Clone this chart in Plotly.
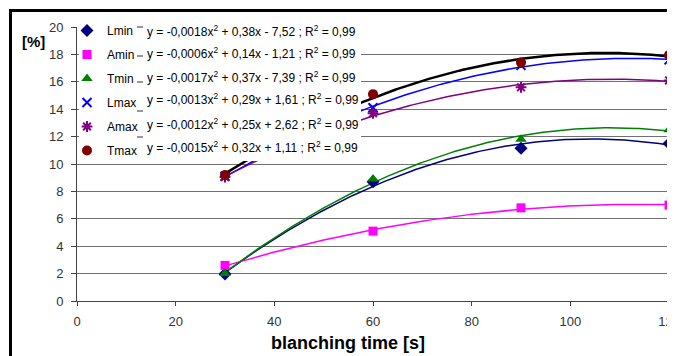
import numpy as np
import plotly.graph_objects as go

# ---------------- data ----------------
blanch_time = [30, 60, 90, 120]
series_names = ["Lmin", "Amin", "Tmin", "Lmax", "Amax", "Tmax"]
Lmin = [1.97, 8.7, 11.15, 11.5]
Amin = [2.6, 5.1, 6.8, 7.0]
Tmin = [2.0, 8.9, 11.8, 12.5]
Lmax = [9.1, 14.1, 17.2, 17.6]
Amax = [9.05, 13.7, 15.6, 16.1]
Tmax = [9.2, 15.1, 17.4, 17.95]
eq_labels = [
    "y = -0,0018x<sup>2</sup> + 0,38x - 7,52 ; R<sup>2</sup> = 0,99",
    "y = -0,0006x<sup>2</sup> + 0,14x - 1,21 ; R<sup>2</sup> = 0,99",
    "y = -0,0017x<sup>2</sup> + 0,37x - 7,39 ; R<sup>2</sup> = 0,99",
    "y = -0,0013x<sup>2</sup> + 0,29x + 1,61 ; R<sup>2</sup> = 0,99",
    "y = -0,0012x<sup>2</sup> + 0,25x + 2,62 ; R<sup>2</sup> = 0,99",
    "y = -0,0015x<sup>2</sup> + 0,32x + 1,11 ; R<sup>2</sup> = 0,99",
]
x_ticks = [0, 20, 40, 60, 80, 100, 120]
y_ticks = [0, 2, 4, 6, 8, 10, 12, 14, 16, 18, 20]

# ---------------- styles ----------------
values = [Lmin, Amin, Tmin, Lmax, Amax, Tmax]
marker_colors = ["#000080", "#FF00FF", "#008000", "#0000FF", "#800080", "#800000"]
line_colors = ["#000080", "#FF00FF", "#008000", "#0000FF", "#800080", "#000000"]
line_widths = [1.5, 1.5, 1.5, 1.5, 1.5, 2.5]
symbols = ["diamond", "square", "triangle-up", "x-thin-open", "asterisk-open", "circle"]
sizes = [10, 9, 10, 9, 9, 10]

OFF = 8  # page body margin of the browser
W, H = 675 - OFF, 356 - OFF
L, R, T, B = 77 - OFF, 6, 27 - OFF, 55
PW, PH = W - L - R, H - T - B


def px(xp):  # reference pixel -> paper x
    return (xp - OFF - L) / PW


def py(yp):  # reference pixel -> paper y
    return (T + PH - (yp - OFF)) / PH


FONT = "Liberation Sans, Arial, sans-serif"

fig = go.Figure()

# trendlines (quadratic regression of the data)
xs = np.linspace(min(blanch_time), max(blanch_time), 181)
for i, (name, vals) in enumerate(zip(series_names, values)):
    c = np.polyfit(blanch_time, vals, 2)
    fig.add_trace(go.Scatter(
        x=xs, y=np.polyval(c, xs), mode="lines",
        line=dict(color=line_colors[i], width=line_widths[i]),
        showlegend=False, hoverinfo="skip"))

# data markers
for i, (name, vals) in enumerate(zip(series_names, values)):
    is_line_sym = symbols[i].endswith("open")
    fig.add_trace(go.Scatter(
        x=blanch_time, y=vals, mode="markers", name=name,
        legendgroup=name, cliponaxis=False,
        marker=dict(symbol=symbols[i], size=sizes[i], color=marker_colors[i],
                    line=dict(color=marker_colors[i], width=2 if is_line_sym else 0))))

shapes = []
# white legend background box (hides gridlines / curves like the original)
shapes.append(dict(type="rect", xref="paper", yref="paper", layer="above",
                   x0=px(79), x1=px(361), y0=py(161), y1=py(18),
                   fillcolor="white", line=dict(width=0)))
# small trendline keys in the legend
for yk in [27, 56, 82, 111, 137]:
    shapes.append(dict(type="line", xref="paper", yref="paper", layer="above",
                       x0=px(137), x1=px(143), y0=py(yk), y1=py(yk),
                       line=dict(color="#333333", width=1)))
# outer chart border (cropped on right/bottom)
shapes.append(dict(type="rect", xref="paper", yref="paper", layer="above",
                   x0=px(10.5), x1=px(720), y0=py(420), y1=py(10.5),
                   fillcolor="rgba(0,0,0,0)", line=dict(color="black", width=3)))

annotations = []
eq_y = [30.5, 53.5, 76.5, 99, 124, 147]
for lab, yy in zip(eq_labels, eq_y):
    annotations.append(dict(text=lab, xref="paper", yref="paper", x=px(145), y=py(yy),
                            xanchor="left", yanchor="middle", showarrow=False,
                            font=dict(family=FONT, size=12, color="black")))
annotations.append(dict(text="<b>[%]</b>", xref="paper", yref="paper", x=px(33), y=py(41),
                        xanchor="center", yanchor="middle", showarrow=False,
                        font=dict(family=FONT, size=15, color="black")))
annotations.append(dict(text="<b>blanching time [s]</b>", xref="paper", yref="paper",
                        x=px(348), y=py(343), xanchor="center", yanchor="middle",
                        showarrow=False, font=dict(family=FONT, size=18, color="black")))

fig.update_layout(
    template="none",
    width=W, height=H,
    margin=dict(l=L, r=R, t=T, b=B, pad=0),
    paper_bgcolor="white", plot_bgcolor="white",
    font=dict(family=FONT, size=13, color="#333333"),
    shapes=shapes, annotations=annotations,
    showlegend=True,
    legend=dict(x=px(67), y=py(16), xanchor="left", yanchor="top",
                bgcolor="rgba(0,0,0,0)", borderwidth=0,
                font=dict(family=FONT, size=12, color="black"),
                tracegroupgap=5, itemclick=False),
    xaxis=dict(range=[0, 120], tickvals=x_ticks, showgrid=False, zeroline=False,
               showline=True, linecolor="#444444", linewidth=1,
               ticks="outside", ticklen=4, tickcolor="#444444", ticklabelstandoff=4,
               ticklabeloverflow="allow",
               tickfont=dict(family=FONT, size=13, color="#333333"), automargin=False),
    yaxis=dict(range=[0, 20], tickvals=y_ticks, showgrid=True, gridcolor="#707070",
               gridwidth=1, zeroline=False,
               showline=True, linecolor="#444444", linewidth=1,
               ticks="outside", ticklen=5, tickcolor="#444444", ticklabelstandoff=5,
               tickfont=dict(family=FONT, size=13, color="#333333"), automargin=False),
)

fig.write_html("out.html")
